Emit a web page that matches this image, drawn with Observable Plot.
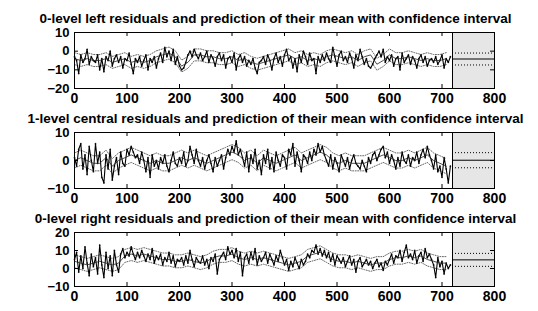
<!DOCTYPE html>
<html><head><meta charset="utf-8">
<script src="https://cdn.jsdelivr.net/npm/d3@7"></script>
<script src="https://cdn.jsdelivr.net/npm/@observablehq/plot@0.6"></script>
<style>
body{margin:0;background:#fff;}
#wrap{position:relative;width:538px;height:311px;overflow:hidden;background:#fff;}
.panel{position:absolute;left:0;}
</style></head><body><div id="wrap"></div>
<script>
// ---- data ----
const titles = [
  "0-level left residuals and prediction of their mean with confidence interval",
  "1-level central residuals and prediction of their mean with confidence interval",
  "0-level right residuals and prediction of their mean with confidence interval"
];
const xTicks = [0,100,200,300,400,500,600,700,800];
const yTicks1 = [-20,-10,0,10];
const yTicks2 = [-10,0,10];
const yTicks3 = [-10,0,10,20];
const yDomains = [[-20,10],[-10,10],[-10,20]];
const residStep = 4;   // residuals sampled every 4 observations
const meanStep = 12;   // fitted mean sampled every 12 observations
const forecastStart = 720;
const forecastEnd = 800;
const forecastMean = [-4.2, 0.1, 4.8];
const forecastHalf = [3.2, 2.7, 3.6];
const fitHalf = [3.2, 2.7, 3.6];

const resid1 = [
 -3,-5,-12,-2,-6,-4,1,-7,-3,-5, -6,-2,-10,-4,-11,-3,-5,0,-8,-4,
 -2,-6,-3,-9,-4,-5,-1,-7,-12,-4, -6,-3,-8,-5,-2,-10,-4,-6,-3,-9,
 -4,-1,-6,2,-3,0,-5,1,-7,-3, -8,-10,-9,-6,-2,0,-3,1,-2,-4,
 -1,-5,-3,0,-6,-2,-4,-8,-3,-1, -5,-2,-9,-4,-3,-6,-1,-10,-4,-2,
 -6,-3,-8,-5,-7,-4,-9,-12,-6,-5, -3,-7,-2,-5,-10,-4,-1,-6,-3,-8,
 -2,1,-5,-3,-9,-4,-11,-2,-6,0, -3,-7,-1,-5,-4,-12,-3,-6,-2,-5,
 -1,-4,-6,2,-3,-8,-2,0,-5,-3, -6,-1,-4,-9,-2,-5,1,-3,-7,-4,
 -8,-9,-7,-4,-2,0,-3,1,-6,-3, -5,-2,-8,-4,-3,-10,-1,-6,-4,-2,
 -7,-3,-5,-9,-4,-2,-6,-3,-8,-5, -4,-6,-3,-7,-5,-2,-9,-4,-6,-3
];
const mean1 = [
 -4,-5,-4,-5,-5,-4,-6,-5,-4,-6, -5,-6,-5,-3,-2,-1,-3,-8,-6,-2,
 -2,-3,-3,-4,-4,-3,-5,-4,-6,-7, -6,-5,-4,-3,-2,-4,-3,-5,-4,-5,
 -3,-2,-3,-4,-3,-5,-3,-2,-7,-5, -2,-4,-4,-3,-4,-5,-4,-5,-5,-4
];
const resid2 = [
 1,-2,4,6,-3,2,-5,5,0,-4, 6,-1,3,-6,-8,2,-3,4,-7,-2,
 1,-5,3,-1,-2,4,2,5,3,1, 2,-1,3,0,-4,1,-6,2,-2,0,
 -3,1,-1,2,-2,-4,0,3,-1,-2, 1,-1,3,-2,0,5,2,-1,4,0,
 -2,1,-3,0,2,-1,-4,1,-2,0, 2,-3,1,4,2,5,3,7,2,4,
 1,-2,3,-4,2,-1,4,-3,0,-5, 2,-1,4,-3,1,-4,3,0,-2,2,
 1,-3,4,2,6,-2,3,0,-4,2, 1,-1,3,0,4,2,6,3,5,2,
 0,-2,2,-3,1,-1,-4,2,0,-2, 1,-3,0,2,-1,-2,-3,0,-2,-4,
 1,-1,2,3,0,2,4,5,1,3, -1,2,0,-3,1,-2,3,0,-1,2,
 -2,1,0,3,-1,2,4,1,5,2, 0,-3,2,-4,-2,-6,1,-3,-8,-2
];
const mean2 = [
 0,1,0,-1,-1,1,-2,0,1,2, 1,0,-1,0,-1,-1,0,1,0,1,
 0,-1,0,1,2,3,2,0,1,-1, 1,0,-1,0,1,2,0,1,2,3,
 2,0,-1,0,-1,-1,-1,0,1,2, 1,0,0,1,0,1,2,0,-1,-2
];
const resid3 = [
 5,9,-2,7,0,12,3,-4,8,1, 6,-3,13,2,-5,9,0,7,-4,10,
 2,-2,8,11,6,9,7,12,8,5, 9,6,10,7,4,8,5,11,3,7,
 5,8,2,6,4,9,3,7,1,5, 4,6,2,7,3,10,5,1,6,4,
 3,7,2,5,0,6,4,8,-3,5, 7,9,5,12,8,10,6,11,4,9,
 -4,6,8,3,9,5,11,2,7,4, 6,9,3,8,5,2,7,4,10,6,
 2,5,-1,4,1,6,3,0,5,2, 4,8,6,10,9,13,8,11,7,10,
 6,9,4,8,2,7,5,3,6,1, 4,7,2,5,-2,4,6,1,3,5,
 2,4,0,3,5,1,3,-1,4,2, 5,8,3,7,6,10,4,9,13,6,
 8,5,10,3,7,9,4,11,6,8, 5,2,-5,6,1,4,-3,3,0,2
];
const mean3 = [
 4,3,2,3,4,3,2,3,7,8, 7,8,7,6,5,5,4,4,5,4,
 3,4,6,7,7,8,6,5,6,5, 6,5,4,3,2,3,4,7,8,9,
 7,5,4,4,3,4,3,2,3,3, 5,6,6,7,6,7,5,4,3,3
];

// ---- drawing ----
const W = 538, ML = 74, MR = 44, MT = 32, MB = 24;
const frameW = W - ML - MR;
const residAll = [resid1, resid2, resid3];
const meanAll = [mean1, mean2, mean3];
const yTicksAll = [yTicks1, yTicks2, yTicks3];
const tops = [0, 100, 200];
const frameHs = [56, 56, 54];
const wrap = document.getElementById("wrap");

for (let i = 0; i < 3; i++) {
  const frameH = frameHs[i];
  const rt = residAll[i].map((v, k) => ({x: k * residStep, y: v}));
  const mt = meanAll[i].map((v, k) => ({x: k * meanStep, m: v}));
  const h = fitHalf[i], fm = forecastMean[i], fh = forecastHalf[i];
  const fc = [{x1: forecastStart, x2: forecastEnd}];
  const yt = yTicksAll[i];
  const svg = Plot.plot({
    width: W, height: MT + frameH + MB,
    marginLeft: ML, marginRight: MR, marginTop: MT, marginBottom: MB,
    style: {fontFamily: "'Liberation Sans', Arial, sans-serif", fontSize: "14px", fontWeight: "bold", background: "transparent", overflow: "visible", color: "#000"},
    x: {domain: [0, 800], ticks: xTicks, tickSize: 0, tickPadding: 5, label: null},
    marks: [
      Plot.rect(fc, {x1: "x1", x2: "x2", fill: "#e6e6e6"}),
      Plot.line(mt, {x: "x", y: d => d.m + h, stroke: "#666", strokeWidth: 1, strokeDasharray: "1,1.5"}),
      Plot.line(mt, {x: "x", y: d => d.m - h, stroke: "#666", strokeWidth: 1, strokeDasharray: "1,1.5"}),
      Plot.dot(rt, {x: "x", y: "y", r: 0.9, fill: "#333", stroke: null}),
      Plot.line(rt, {x: "x", y: "y", stroke: "#000", strokeWidth: 1.1}),
      Plot.line(mt, {x: "x", y: "m", stroke: "#222", strokeWidth: 0.8}),
      Plot.ruleY([fm], {x1: forecastStart, x2: forecastEnd, stroke: "#000", strokeWidth: 1}),
      Plot.ruleY([fm + fh, fm - fh], {x1: forecastStart, x2: forecastEnd, stroke: "#000", strokeWidth: 1, strokeDasharray: "1,2"}),
      Plot.ruleX([forecastStart], {stroke: "#000", strokeWidth: 1}),
      Plot.ruleX(xTicks, {insetBottom: frameH - 4, stroke: "#000"}),
      Plot.ruleX(xTicks, {insetTop: frameH - 4, stroke: "#000"}),
      Plot.ruleY(yt, {insetRight: frameW - 4, stroke: "#000"}),
      Plot.ruleY(yt, {insetLeft: frameW - 4, stroke: "#000"}),
      Plot.frame({stroke: "#000", strokeWidth: 1}),
      Plot.axisY({domain: yDomains[i], ticks: yt, tickSize: 0, tickPadding: 5, label: null, fontSize: 13}),
      Plot.text([titles[i]], {text: d => d, frameAnchor: "top", dy: -19, dx: -9, fontSize: 13.5, fontWeight: "bold", fill: "#000"})
    ],
    y: {domain: yDomains[i], label: null}
  });
  const div = document.createElement("div");
  div.className = "panel";
  div.style.top = tops[i] + "px";
  div.appendChild(svg);
  wrap.appendChild(div);
}
</script></body></html>
